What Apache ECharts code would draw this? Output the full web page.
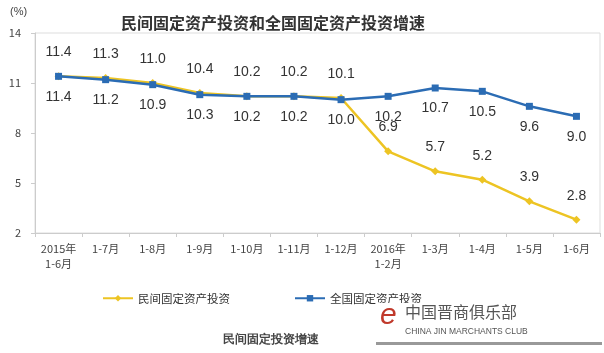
<!DOCTYPE html>
<html><head><meta charset="utf-8">
<script src="https://cdn.jsdelivr.net/npm/echarts@6/dist/echarts.min.js"></script>
<style>html,body{margin:0;padding:0;background:#fff}#c{width:604px;height:353px}</style>
</head><body><div id="c"></div>
<script>
const categories = ['2015年\n1-6月','1-7月','1-8月','1-9月','1-10月','1-11月','1-12月','2016年\n1-2月','1-3月','1-4月','1-5月','1-6月'];
const privateInv = [11.4,11.3,11.0,10.4,10.2,10.2,10.1,6.9,5.7,5.2,3.9,2.8];
const nationalInv = [11.4,11.2,10.9,10.3,10.2,10.2,10.0,10.2,10.7,10.5,9.6,9.0];
const yTicks = [2,5,8,11,14];
const seriesNames = ['民间固定资产投资','全国固定资产投资'];

const chart = echarts.init(document.getElementById('c'));
const font = '"Noto Sans CJK SC","Noto Sans",sans-serif';
chart.setOption({
  animation:false,
  textStyle:{fontFamily:font},
  title:{text:'民间固定资产投资和全国固定资产投资增速',left:268,textAlign:'center',top:10,
    textStyle:{fontSize:16,fontWeight:'bold',color:'#333',fontFamily:font}},
  grid:{left:35,right:4,top:33,height:200,show:true,borderColor:'#ddd',borderWidth:1},
  legend:{bottom:44,left:97,itemGap:64,itemWidth:30,itemHeight:8,
    textStyle:{fontSize:11.5,color:'#333'},data:seriesNames},
  xAxis:{type:'category',data:categories,boundaryGap:true,
    axisLine:{lineStyle:{color:'#ccc'}},
    axisTick:{show:true,length:4,lineStyle:{color:'#ccc'}},
    axisLabel:{fontSize:11,color:'#444',margin:8,lineHeight:15,interval:0}},
  yAxis:{type:'value',min:yTicks[0],max:yTicks[yTicks.length-1],interval:3,
    axisLine:{show:true,lineStyle:{color:'#ccc'}},
    axisTick:{show:true,length:4,lineStyle:{color:'#ccc'}},
    splitLine:{show:false},
    axisLabel:{fontSize:11,color:'#444',margin:14}},
  series:[
    {name:seriesNames[0],type:'line',data:privateInv,symbol:'diamond',symbolSize:8,
      itemStyle:{color:'#EDC423'},lineStyle:{width:2.5,color:'#EDC423'},z:2,
      label:{show:true,position:'top',distance:13,fontSize:14,color:'#333',fontFamily:'"Liberation Sans",Arial,sans-serif',formatter:p=>p.value.toFixed(1)}},
    {name:seriesNames[1],type:'line',data:nationalInv,symbol:'rect',symbolSize:7,
      itemStyle:{color:'#2B6CB4'},lineStyle:{width:2.5,color:'#2B6CB4'},z:3,
      label:{show:true,position:'bottom',distance:10,fontSize:14,color:'#333',fontFamily:'"Liberation Sans",Arial,sans-serif',formatter:p=>p.value.toFixed(1)}}
  ],
  graphic:[
    {type:'text',left:10,top:6,style:{text:'(%)',fontSize:11,fill:'#444'}},
    {type:'text',left:223,top:334,style:{text:'民间固定投资增速',fontSize:12,fontWeight:'bold',fill:'#444'}},
    {type:'rect',shape:{x:376,y:303,width:226,height:40},style:{fill:'#fff'},z:10},
    {type:'text',left:380,top:301,style:{text:'e',fontSize:30,fontStyle:'italic',fill:'#c0392b'},z:11},
    {type:'text',left:405,top:304,style:{text:'中国晋商俱乐部',fontSize:16,fill:'#555',fontFamily:'"Noto Sans CJK SC"'},z:11},
    {type:'text',left:405,top:327,style:{text:'CHINA JIN MARCHANTS CLUB',fontSize:8.5,fill:'#555'},z:11},
    {type:'rect',shape:{x:376,y:342,width:226,height:3},style:{fill:'#999'},z:10}
  ]
});
</script></body></html>
